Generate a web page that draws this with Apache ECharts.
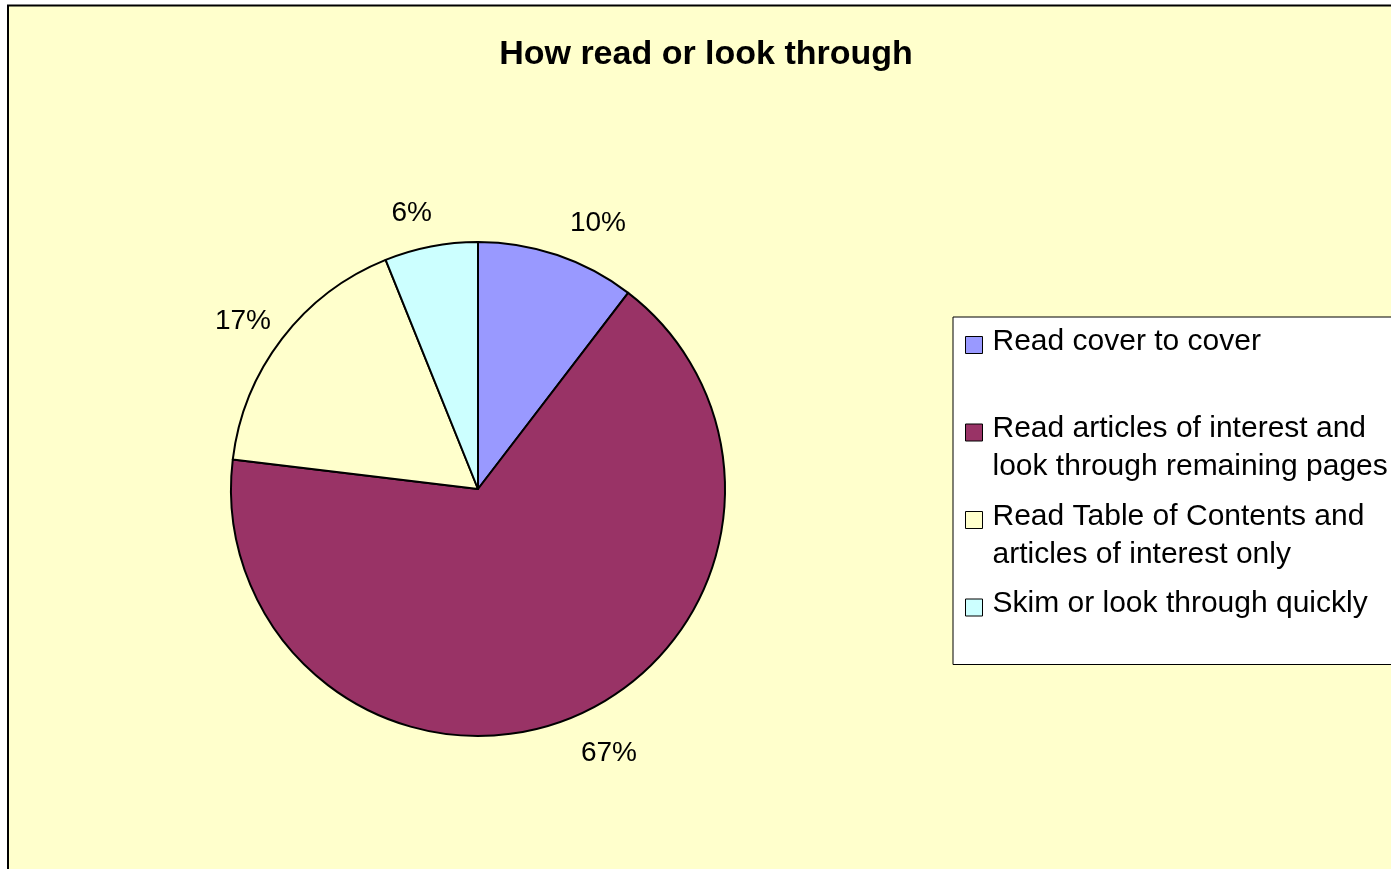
<!DOCTYPE html>
<html>
<head>
<meta charset="utf-8">
<script src="https://cdn.jsdelivr.net/npm/echarts@6/dist/echarts.min.js"></script>
<style>
html,body{margin:0;padding:0;background:#fff;}
#chart{width:1391px;height:869px;}
</style>
</head>
<body>
<div id="chart"></div>
<script>
const categories = [
  'Read cover to cover',
  'Read articles of interest and look through remaining pages',
  'Read Table of Contents and articles of interest only',
  'Skim or look through quickly'
];
const legendLabels = [
  'Read cover to cover\n ',
  'Read articles of interest and\nlook through remaining pages',
  'Read Table of Contents and\narticles of interest only',
  'Skim or look through quickly\n '
];
const values = [10.4, 66.5, 17.0, 6.1];
const colors = ['#9999FF', '#993366', '#FFFFCC', '#CCFFFF'];
// small label nudges (pixels) to match the reference label placement
const labelNudge = [[25, 14.5], [16, -8], [0, 12], [-10, 15]];

const chart = echarts.init(document.getElementById('chart'));
const font = 'Liberation Sans, Arial, sans-serif';
const mainData = categories.map((n, i) => ({name: n, value: values[i], itemStyle: {color: colors[i]}}));
const labelData = categories.map((n, i) => ({name: n, value: values[i]}));

chart.setOption({
  backgroundColor: '#ffffff',
  animation: false,
  graphic: [{
    type: 'rect', z: -10, silent: true,
    shape: {x: 8, y: 5.5, width: 1500, height: 1000},
    style: {fill: '#FFFFCC', stroke: '#000', lineWidth: 2}
  }],
  title: {
    text: 'How read or look through',
    left: 701, top: 33, textAlign: 'center',
    textStyle: {fontFamily: font, fontSize: 34, fontWeight: 'bold', color: '#000'}
  },
  legend: {
    orient: 'vertical',
    left: 953, top: 317,
    padding: [5, 25, 3, 12],
    backgroundColor: '#ffffff',
    borderColor: '#000', borderWidth: 1,
    itemGap: 10.5, itemWidth: 22, itemHeight: 76,
    selectedMode: false,
    icon: 'path://M0,0M0,14L17,14L17,31L0,31ZM22,76',
    itemStyle: {borderColor: '#000', borderWidth: 1},
    data: categories,
    formatter: function (name) { return legendLabels[categories.indexOf(name)]; },
    textStyle: {fontFamily: font, fontSize: 30, lineHeight: 38, color: '#000'}
  },
  series: [{
    type: 'pie',
    center: [478, 489], radius: 247,
    startAngle: 90, clockwise: true,
    label: {show: false}, labelLine: {show: false},
    emphasis: {disabled: true},
    itemStyle: {borderColor: '#000', borderWidth: 2},
    data: mainData
  }, {
    type: 'pie',
    center: [478, 489], radius: [270, 316],
    startAngle: 90, clockwise: true, silent: true,
    legendHoverLink: false,
    emphasis: {disabled: true},
    itemStyle: {color: 'rgba(0,0,0,0)', borderWidth: 0},
    label: {
      show: true, position: 'inside',
      formatter: function (p) { return Math.round(p.value) + '%'; },
      fontFamily: font, fontSize: 28, color: '#000'
    },
    labelLayout: function (p) {
      const n = labelNudge[p.dataIndex];
      return {dx: n[0], dy: n[1]};
    },
    labelLine: {show: false},
    data: labelData
  }]
});
</script>
</body>
</html>
